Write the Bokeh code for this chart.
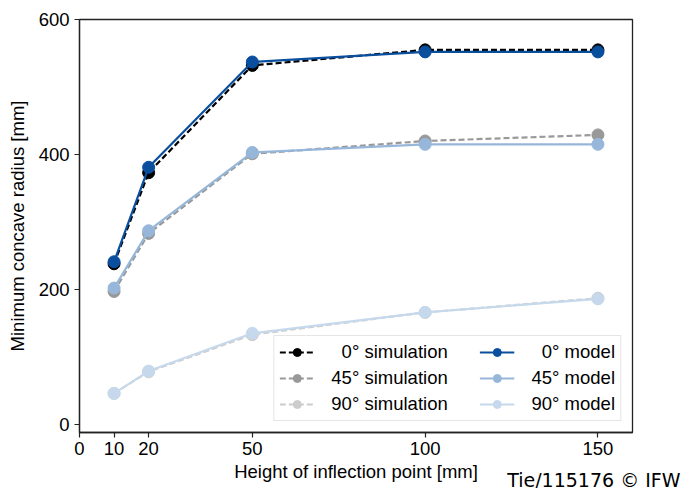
from bokeh.plotting import figure
from bokeh.models import Range1d, FixedTicker, Legend, LegendItem, Title
from bokeh.embed import file_html
from bokeh.resources import INLINE

heights = [10, 20, 50, 100, 150]
sim_0 = [238, 373, 532, 555, 555]
sim_45 = [197, 283, 401, 420, 429]
sim_90 = [46, 78, 133, 166, 187]
model_0 = [241, 381, 537, 552, 552]
model_45 = [202, 287, 403, 415, 415]
model_90 = [46, 79, 135, 166, 186]

x_ticks = [0, 10, 20, 50, 100, 150]
y_ticks = [0, 200, 400, 600]

FONT = "Liberation Sans"
FS = "18.5px"

p = figure(width=685, height=488, output_backend="svg", toolbar_location=None,
           x_range=Range1d(0, 160), y_range=Range1d(-12, 600),
           min_border_left=79, min_border_right=53, min_border_top=19, min_border_bottom=56)
p.grid.visible = False
p.outline_line_color = "#222222"
p.outline_line_width = 1.3
p.background_fill_color = "white"
p.border_fill_color = "white"

for ax in (p.xaxis[0], p.yaxis[0]):
    ax.axis_line_color = "#222222"
    ax.axis_line_width = 1.3
    ax.major_tick_line_color = "#222222"
    ax.major_tick_line_width = 1.2
    ax.major_tick_out = 5
    ax.major_tick_in = 0
    ax.minor_tick_line_color = None
    ax.major_label_text_font = FONT
    ax.major_label_text_font_size = FS
    ax.major_label_text_color = "black"
    ax.axis_label_text_font = FONT
    ax.axis_label_text_font_size = FS
    ax.axis_label_text_font_style = "normal"
    ax.axis_label_text_color = "black"

p.xaxis.ticker = FixedTicker(ticks=x_ticks)
p.yaxis.ticker = FixedTicker(ticks=y_ticks)
p.xaxis.axis_label = "Height of inflection point [mm]"
p.yaxis.axis_label = "Minimum concave radius [mm]"
p.xaxis.axis_label_standoff = 3
p.yaxis.axis_label_standoff = 8
p.xaxis.major_label_standoff = 4
p.yaxis.major_label_standoff = 5

col_pad = "\u2003\u2002"
series = [
    ("\u20070° simulation" + col_pad, sim_0, "black", "dashed"),
    ("45° simulation" + col_pad, sim_45, "#999999", "dashed"),
    ("90° simulation" + col_pad, sim_90, "#cccccc", "dashed"),
    ("\u20070° model", model_0, "#0a4f9e", "solid"),
    ("45° model", model_45, "#97b7da", "solid"),
    ("90° model", model_90, "#c6d9ec", "solid"),
]

items = []
for label, ys, color, dash in series:
    ln = p.line(heights, ys, line_color=color, line_width=2.2,
                line_dash=("6 3" if dash == "dashed" else "solid"))
    sc = p.scatter(heights, ys, size=12, fill_color=color, line_color=color)
    items.append(LegendItem(label=label, renderers=[ln, sc]))

legend = Legend(items=items, location="bottom_right", ncols=2,
                label_text_font=FONT, label_text_font_size=FS,
                label_text_color="black",
                border_line_color="#cccccc", border_line_width=1,
                background_fill_alpha=0.85,
                glyph_width=35, glyph_height=20, label_height=20,
                spacing=4, padding=5, margin=11, label_standoff=17)
p.add_layout(legend, "center")

credit = Title(text="Tie/115176 © IFW", align="right", vertical_align="top",
               standoff=-31, offset=-48,
               text_font="DejaVu Sans", text_font_size="19px",
               text_font_style="normal", text_color="black")
p.add_layout(credit, "below")

open("out.html", "w").write(file_html(p, INLINE))
